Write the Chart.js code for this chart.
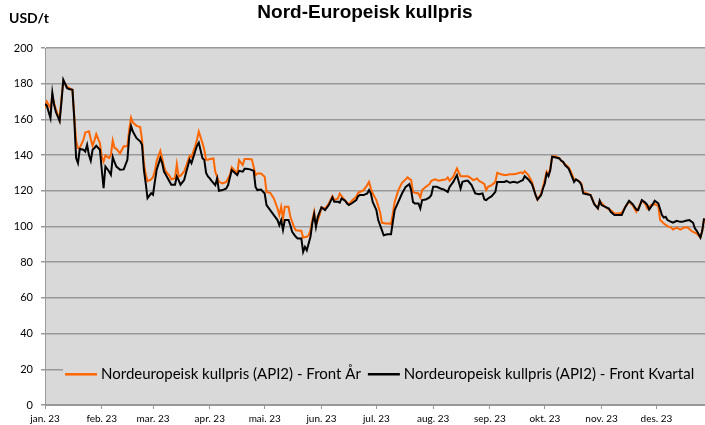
<!DOCTYPE html>
<html>
<head>
<meta charset="utf-8">
<title>Nord-Europeisk kullpris</title>
<script src="https://cdn.jsdelivr.net/npm/chart.js@4.4.1/dist/chart.umd.min.js"></script>
<style>
	body { margin: 0; background: #ffffff; }
	#content { width: 705px; height: 425px; }
</style>
</head>
<body>
<div id="content"><canvas id="coal-chart" width="705" height="425"></canvas></div>
<script>
/* data: day 0 = 1 jan 2023 */

var monthDays = [0, 31, 59, 90, 120, 151, 181, 212, 243, 273, 304, 334];
var monthLabels = ['jan. 23', 'feb. 23', 'mar. 23', 'apr. 23', 'mai. 23', 'jun. 23', 'jul. 23', 'aug. 23', 'sep. 23', 'okt. 23', 'nov. 23', 'des. 23'];

var frontYearDays = [
	0, 1, 3, 4, 5, 6, 8, 9, 10, 12, 13, 15, 16, 17, 18, 19, 21, 22, 23, 24, 25, 26, 27, 28, 30, 31, 32, 33, 35, 36, 37, 38, 39, 41, 43, 45, 46, 47, 48, 50,
	52, 53, 54, 55, 56, 58, 59, 60, 61, 63, 64, 65, 66, 68, 69, 71, 72, 73, 74, 76, 77, 79, 80, 82, 83, 84, 86, 87, 88, 89, 90,
	92, 93, 95, 97, 99, 101, 102, 103, 105, 106, 108, 109, 111, 113, 115, 116, 118, 120, 121, 123, 125, 127, 128, 129, 130, 131, 133, 134, 136, 137,
	139, 140, 141, 143, 144, 145, 146, 147, 148, 150, 151, 153, 155, 157, 158, 160, 161, 163, 164, 166, 168, 170, 171, 174, 176,
	177, 178, 179, 181, 183, 184, 186, 188, 189, 190, 191, 193, 195, 197, 198, 200, 201, 202, 204, 205, 206, 208, 210, 211, 213, 215, 217, 219, 220, 221,
	223, 225, 227, 229, 231, 232, 234, 236, 237, 239, 240, 241, 242, 244, 246, 247, 249, 251, 252, 254, 256, 258, 260, 261, 262, 264, 266, 268, 269,
	271, 272, 273, 274, 275, 276, 277, 279, 281, 282, 284, 286, 287, 289, 291, 293, 294, 296, 298, 300, 302, 303, 305, 307, 309, 311, 313, 315, 317, 319,
	321, 323, 326, 328, 329, 331, 333, 335, 336, 338, 340, 342, 343, 345, 347, 349, 351, 353, 354, 356, 358, 359, 360
];
var frontYearValues = [
	166.4, 170, 166.4, 173, 169, 165.4, 160, 172, 181.3, 178.5, 177.6, 176.6, 161.7, 148, 144, 144, 148.6, 152.7, 153, 153.3, 149, 145.2, 148.2, 151.8, 146.7, 139.2, 136.4, 139.8, 138.3, 140.2, 148.2, 144, 143.5, 141, 145, 145, 154.2, 161, 158.3, 156.4,
	155.7, 148.6, 135.7, 129.2, 125.4, 126.4, 127.7, 131, 136.8, 142.4, 138.3, 133.6, 130.8, 128.4, 126.5, 127.1, 135, 128, 128.4, 130.8, 133.6, 139.6, 138.9, 144.9, 148.6, 153.2, 146.7, 143, 137.4, 137.4, 137.8,
	138.1, 130.7, 125, 124.1, 125, 128.8, 133.1, 132, 129.7, 137.2, 134.4, 137.8, 137.8, 137.6, 128.8, 129.7, 129.7, 127.9, 119.4, 118.9, 115.7, 110.1, 106.4, 111, 104.5, 111, 111, 105.4, 99.8, 97.9,
	97.6, 97.6, 93.8, 94.2, 95.1, 98, 103.6, 108.2, 100.7, 106.4, 110.7, 110.1, 112.9, 117, 114.8, 115.7, 118.5, 115.7, 114.4, 112.5, 114.8, 116.6, 118.9, 120.4, 123.2,
	125, 121.3, 118.5, 114.8, 108.2, 102.1, 101.7, 101.7, 101.3, 107.3, 113.8, 120.4, 124.5, 126.4, 127.5, 126, 119.4, 118.9, 118.5, 116.3, 120.4, 122.2, 123.7, 125.6, 126.4, 125.6, 126, 126.4, 127.5, 125.6,
	127.9, 132.5, 128.2, 128.2, 128.2, 127.5, 126, 126.9, 125.6, 124.5, 123.7, 120.4, 122.2, 123.2, 125, 130.1, 129.3, 128.8, 128.8, 129.3, 129.3, 129.7, 130.3, 129.7, 131, 128.8, 125, 117.6, 115.1,
	118.5, 122.2, 126.4, 130.7, 128.8, 132.5, 139.4, 139.4, 138.1, 136.8, 135, 133.1, 131.2, 126.4, 126, 124.1, 119.4, 118.5, 117.6, 112.9, 110.1, 114.4, 112, 110.1, 109.2, 107.3, 107.3, 107.7, 111, 113.8,
	111.9, 108.2, 114.4, 112.5, 110.1, 111.9, 112.5, 111.4, 103.6, 101.7, 100.2, 99.4, 98.3, 99.4, 98.3, 99.4, 99.4, 97.6, 97, 96, 93.8, 97.6, 104.5
];

var frontQuarterDays = [
	0, 1, 3, 4, 5, 6, 8, 9, 10, 12, 13, 15, 16, 17, 18, 19, 21, 22, 23, 24, 25, 26, 27, 28, 30, 31, 32, 33, 35, 36, 37, 38, 39, 41, 43, 45, 46, 47, 48, 50,
	52, 53, 54, 55, 56, 58, 59, 60, 61, 63, 64, 65, 66, 68, 69, 71, 72, 73, 74, 76, 77, 79, 80, 82, 83, 84, 86, 87, 88, 89, 90,
	91, 93, 94, 95, 97, 99, 100, 102, 103, 105, 106, 108, 109, 110, 112, 114, 115, 116, 118, 120, 121, 123, 125, 127, 128, 129, 130, 131, 133, 134,
	135, 137, 138, 140, 141, 142, 143, 145, 146, 147, 148, 149, 151, 153, 155, 157, 158, 160, 161, 162, 164, 165, 166, 168, 170, 171, 172, 174, 176,
	177, 178, 179, 181, 182, 184, 185, 187, 189, 190, 191, 193, 195, 197, 199, 200, 201, 202, 204, 205, 206, 208, 210, 211, 212, 214, 216, 218, 220, 221,
	223, 225, 227, 228, 230, 231, 233, 235, 237, 239, 240, 241, 242, 244, 246, 247, 249, 251, 252, 254, 256, 258, 260, 261, 262, 264, 266, 268, 269,
	271, 272, 273, 274, 275, 276, 277, 279, 281, 282, 283, 284, 286, 287, 289, 290, 292, 293, 294, 296, 298, 300, 302, 303, 304, 306, 308, 309, 311, 313,
	315, 317, 319, 321, 323, 324, 326, 328, 329, 330, 332, 333, 335, 337, 338, 339, 340, 342, 343, 345, 347, 348, 350, 352, 354, 355, 356, 358, 359, 360
];
var frontQuarterValues = [
	168.6, 167.7, 160.7, 175, 168, 164, 159, 170, 182.2, 177.6, 177, 176.6, 160, 138.3, 135.5, 143.4, 143, 142, 145.8, 140, 136.8, 143, 144, 145.2, 143, 131.8, 121.5, 133.6, 130.8, 129, 138.9, 136, 133.6, 131.8, 132, 137.4, 150.5, 156.4, 153.2, 149.5,
	147.7, 145.8, 131.8, 124.3, 115.9, 118.7, 117.8, 125.2, 131.8, 138.3, 135.5, 130.8, 129, 125.2, 123.4, 123.4, 128, 126, 123.4, 126, 130, 137.4, 135.5, 142, 145.2, 147, 138.3, 137.4, 130, 128, 127,
	125.6, 123.2, 126.9, 120, 120.4, 121.3, 123.2, 131.6, 130.7, 128.8, 131.2, 130.7, 132.3, 132.3, 132, 131.2, 122.2, 120.4, 120.7, 118.5, 112, 109.2, 106.4, 103.6, 100.7, 103.6, 98, 103.6, 103.6, 100.7,
	97, 94.2, 93.3, 93.3, 85.8, 88.6, 86.7, 94.2, 101.7, 106.9, 99.8, 105.4, 110.7, 109.2, 112, 116.3, 113.8, 113.8, 113.3, 115.7, 114.4, 112.9, 112, 113.3, 114.8, 117, 117.6, 117.6, 118.5,
	120.4, 118.5, 113.8, 109.2, 103.6, 98, 95.1, 95.7, 95.7, 102.6, 109.2, 113.8, 118.5, 122.2, 123.7, 120.4, 113.8, 112.9, 112.9, 110.1, 114.8, 115.1, 116.3, 117.6, 122.2, 122.2, 121.3, 120.7, 119.4, 122.2,
	125, 128.8, 121.3, 125, 125.6, 125.6, 123.2, 118.5, 118.1, 118.5, 115.1, 114.8, 115.7, 117, 119.4, 125, 125, 125, 125.6, 124.5, 125, 124.5, 125.6, 126, 128.2, 126.4, 123.7, 117.6, 115.1,
	117.6, 121.3, 124.1, 129.7, 128.2, 131.6, 139.1, 138.7, 138.1, 136.8, 136.3, 134.4, 132.5, 130.1, 125, 126.4, 125, 123.2, 118.5, 118.1, 117.6, 112.5, 110.1, 114.4, 112, 111, 110.1, 108.2, 106.4, 106.4,
	106.4, 111, 114.4, 112.5, 109.5, 109.2, 114.8, 113.3, 112, 109.5, 112.5, 114.4, 112.9, 106.4, 105, 105.4, 103.6, 102.6, 102.1, 103.2, 102.6, 102.6, 103.2, 103.6, 102.1, 98.9, 97.6, 93.8, 97.6, 104.5
];

var seriesLabels = ['Nordeuropeisk kullpris (API2) - Front År', 'Nordeuropeisk kullpris (API2) - Front Kvartal'];
var seriesColors = ['#ff6600', '#000000'];

/* helpers */

var toPoints = function(days, values) {
	var points = [];
	for (var i = 0; i < days.length; i++) {
		points.push({ x: days[i], y: values[i] });
	}
	return points;
};

var gridColor = '#999999';
var plotColor = '#d9d9d9';

/* plugins */

var plotBackground = {
	id: 'plotBackground',
	beforeDraw: function(chart) {
		var area = chart.chartArea;
		var ctx = chart.ctx;
		ctx.save();
		ctx.fillStyle = plotColor;
		ctx.fillRect(area.left, area.top, area.right - area.left, area.bottom - area.top);
		ctx.restore();
	}
};

var headings = {
	id: 'headings',
	afterDraw: function(chart) {
		var ctx = chart.ctx;
		ctx.save();
		ctx.fillStyle = '#000000';
		ctx.textBaseline = 'alphabetic';
		ctx.textAlign = 'center';
		ctx.font = 'bold 19px "Liberation Sans", Arial, sans-serif';
		ctx.fillText('Nord-Europeisk kullpris', 365, 17.5);
		ctx.textAlign = 'left';
		ctx.font = 'bold 14px Lato, sans-serif';
		ctx.fillText('USD/t', 9, 23);
		ctx.restore();
	}
};

// legend sits inside the plot, over the 20 gridline
var innerLegend = {
	id: 'innerLegend',
	afterDatasetsDraw: function(chart) {
		var ctx = chart.ctx;
		var y = chart.scales.y.getPixelForValue(20) + 5;
		var x = 65;
		ctx.save();
		ctx.font = '15px Lato, sans-serif';
		ctx.fillStyle = plotColor;
		ctx.fillRect(63, y - 12, 642, 24);
		ctx.textBaseline = 'middle';
		ctx.textAlign = 'left';
		for (var i = 0; i < seriesLabels.length; i++) {
			ctx.strokeStyle = seriesColors[i];
			ctx.lineWidth = 2.5;
			ctx.beginPath();
			ctx.moveTo(x, y);
			ctx.lineTo(x + 32, y);
			ctx.stroke();
			x = x + 36;
			ctx.fillStyle = '#000000';
			ctx.fillText(seriesLabels[i], x, y);
			x = x + ctx.measureText(seriesLabels[i]).width + 7;
		}
		ctx.restore();
	}
};

/* chart */

var setChart = function() {
	var context = document.getElementById('coal-chart').getContext('2d');
	var payload = {
		type: 'line',
		data: {
			datasets: [
				{ label: seriesLabels[1], data: toPoints(frontQuarterDays, frontQuarterValues), borderColor: seriesColors[1], backgroundColor: seriesColors[1], borderWidth: 2, pointRadius: 0, tension: 0, fill: false },
				{ label: seriesLabels[0], data: toPoints(frontYearDays, frontYearValues), borderColor: seriesColors[0], backgroundColor: seriesColors[0], borderWidth: 2, pointRadius: 0, tension: 0, fill: false }
			]
		},
		options: {
			responsive: false,
			animation: false,
			devicePixelRatio: 1,
			layout: { padding: { top: 48, left: 0, right: 0, bottom: 0 } },
			plugins: {
				legend: { display: false },
				title: { display: false },
				tooltip: { enabled: false }
			},
			scales: {
				x: {
					type: 'linear',
					min: 0,
					max: 360.5,
					afterBuildTicks: function(scale) {
						scale.ticks = monthDays.map(function(d) { return { value: d }; });
					},
					afterFit: function(scale) { scale.height = 20; },
					ticks: {
						autoSkip: false,
						maxRotation: 0,
						padding: 4,
						color: '#000000',
						font: { family: 'Lato, sans-serif', size: 10 },
						callback: function(value) { return monthLabels[monthDays.indexOf(value)]; }
					},
					grid: { drawOnChartArea: false, drawTicks: true, tickLength: 4, color: gridColor },
					border: { color: gridColor }
				},
				y: {
					min: 0,
					max: 200,
					afterFit: function(scale) { scale.width = 45; },
					ticks: {
						stepSize: 20,
						padding: 8,
						color: '#000000',
						font: { family: 'Lato, sans-serif', size: 11 }
					},
					grid: { color: gridColor, lineWidth: 1.5, tickLength: 4 },
					border: { color: gridColor }
				}
			}
		},
		plugins: [plotBackground, innerLegend, headings]
	};
	new Chart(context, payload);
};

document.addEventListener('DOMContentLoaded', setChart);
</script>
</body>
</html>
